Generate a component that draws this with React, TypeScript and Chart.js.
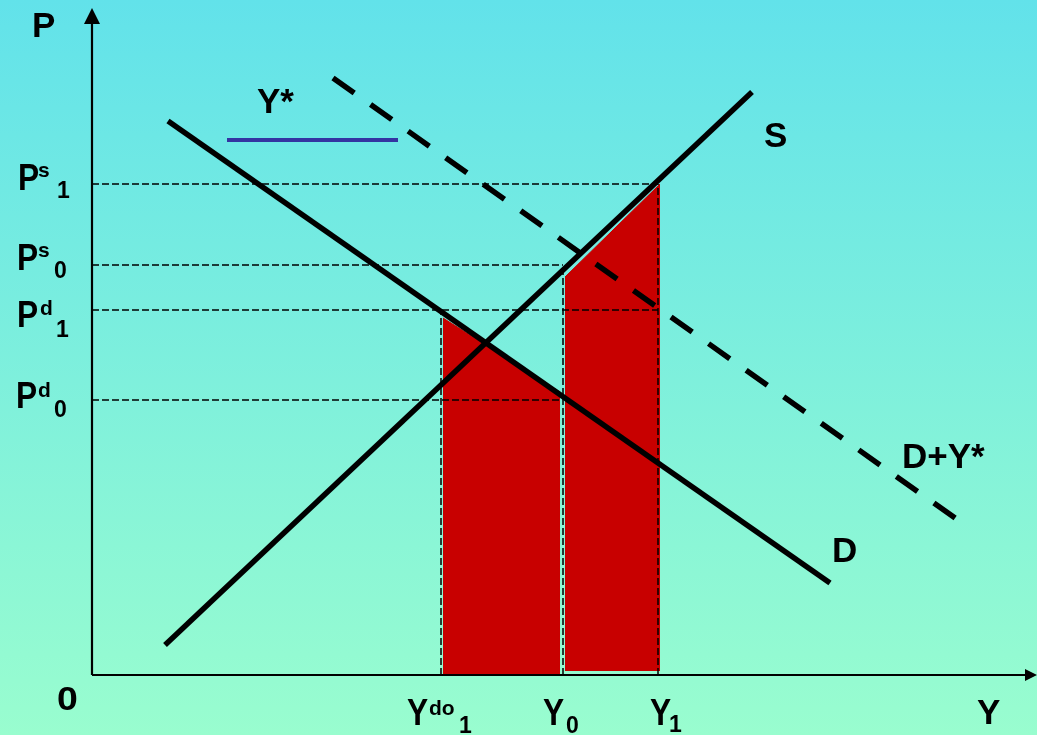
import { useEffect, useRef } from "react";
import { Chart, registerables } from "chart.js";

Chart.register(...registerables);

// ---- data (schematic units: quantity on x, price on y) ----
const supplyX = [73, 660];
const supplyY = [30, 583];
const demandX = [76, 738];
const demandY = [554, 92];
const demandPlusX = [241, 873];
const demandPlusY = [597, 150];
const yStarX = [135, 306];
const yStarLevel = 535;

// Ps1, Ps0, Pd1, Pd0
const priceLevels = [491, 410, 365, 275];
const priceLevelEnds = [566, 471, 566, 468];
// Ydo1, Y0, Y1
const quantityLevels = [349, 471, 566];
const quantityLevelTops = [365, 410, 491];

const leftAreaX = [351, 468];
const leftAreaY = [357, 283];
const rightAreaX = [473, 568];
const rightAreaY = [398, 491];
const rightAreaBase = 4;

const X_MAX = 945;
const Y_MAX = 667;

const FONT = '"Liberation Sans", Arial, Helvetica, sans-serif';

type Part = { t: string; x: number; y: number; size: number; sx: number; sy: number };

// simple labels: [text, x, y] in data units (baseline-left)
const plainLabels: [string, number, number][] = [
  ["P", -60, 638],
  ["Y*", 165, 562],
  ["S", 672, 528],
  ["D+Y*", 810, 207],
  ["D", 740, 113],
  ["Y", 885, -49],
];

// compound labels: main, superscript, subscript
const priceLabelParts: [string, string, string][] = [
  ["P", "s", "1"],
  ["P", "s", "0"],
  ["P", "d", "1"],
  ["P", "d", "0"],
];
const priceLabelPos: number[][] = [
  // mainX, mainY, supX, supY, subX, subY
  [-74, 485, -54, 498, -35, 477],
  [-75, 405, -54, 418, -38, 397],
  [-75, 348, -52, 360, -36, 338],
  [-76, 267, -54, 278, -38, 258],
];
const qtyLabelParts: [string, string, string][] = [
  ["Y", "do", "1"],
  ["Y", "", "0"],
  ["Y", "", "1"],
];
const qtyLabelPos: number[][] = [
  [315, -50, 337, -40, 367, -58],
  [451, -50, 0, 0, 474, -58],
  [558, -50, 0, 0, 577, -57],
];

const seg = (xs: number[], ys: number[]) => xs.map((x, i) => ({ x, y: ys[i] }));

function drawText(ctx: CanvasRenderingContext2D, p: Part) {
  ctx.save();
  ctx.translate(p.x, p.y);
  ctx.scale(p.sx, p.sy);
  ctx.font = `bold ${p.size}px ${FONT}`;
  ctx.textAlign = "left";
  ctx.textBaseline = "alphabetic";
  ctx.fillStyle = "#000";
  ctx.fillText(p.t, 0, 0);
  ctx.restore();
}

const diagramPlugin = {
  id: "diagram",
  beforeDraw(chart: any) {
    const { ctx, width, height } = chart;
    const g = ctx.createLinearGradient(0, 0, 0, height);
    g.addColorStop(0, "#62e2ea");
    g.addColorStop(1, "#99fdcf");
    ctx.save();
    ctx.fillStyle = g;
    ctx.fillRect(0, 0, width, height);
    ctx.restore();
  },
  afterDraw(chart: any) {
    const { ctx } = chart;
    const xs = chart.scales.x;
    const ys = chart.scales.y;
    const px = (v: number) => xs.getPixelForValue(v);
    const py = (v: number) => ys.getPixelForValue(v);

    // axes
    const x0 = px(0);
    const y0 = py(0);
    const xEnd = px(X_MAX);
    const yEnd = py(Y_MAX);
    ctx.save();
    ctx.strokeStyle = "#000";
    ctx.lineWidth = 2.2;
    ctx.beginPath();
    ctx.moveTo(x0, y0);
    ctx.lineTo(x0, yEnd + 10);
    ctx.moveTo(x0, y0);
    ctx.lineTo(xEnd - 8, y0);
    ctx.stroke();
    ctx.fillStyle = "#000";
    ctx.beginPath();
    ctx.moveTo(x0, yEnd);
    ctx.lineTo(x0 - 8, yEnd + 16);
    ctx.lineTo(x0 + 8, yEnd + 16);
    ctx.closePath();
    ctx.fill();
    ctx.beginPath();
    ctx.moveTo(xEnd, y0);
    ctx.lineTo(xEnd - 12, y0 - 6);
    ctx.lineTo(xEnd - 12, y0 + 6);
    ctx.closePath();
    ctx.fill();
    ctx.restore();

    // origin label
    drawText(ctx, { t: "0", x: px(-35), y: py(-35), size: 34, sx: 1.1, sy: 1 });

    plainLabels.forEach(([t, x, y]) => {
      drawText(ctx, { t, x: px(x), y: py(y), size: 35, sx: 1.0, sy: 1.02 });
    });

    const compound = (parts: [string, string, string], pos: number[]) => {
      const [m, sup, sub] = parts;
      drawText(ctx, { t: m, x: px(pos[0]), y: py(pos[1]), size: 36, sx: 0.88, sy: 1 });
      if (sup) drawText(ctx, { t: sup, x: px(pos[2]), y: py(pos[3]), size: 21, sx: 1, sy: 1 });
      if (sub) drawText(ctx, { t: sub, x: px(pos[4]), y: py(pos[5]), size: 23, sx: 1, sy: 1 });
    };
    priceLabelParts.forEach((p, i) => compound(p, priceLabelPos[i]));
    qtyLabelParts.forEach((p, i) => compound(p, qtyLabelPos[i]));
  },
};

export default function App() {
  const ref = useRef<HTMLCanvasElement | null>(null);

  useEffect(() => {
    document.body.style.margin = "0";
    const canvas = ref.current;
    if (!canvas) return;

    const base = { pointRadius: 0, tension: 0, fill: false as any };

    const datasets: any[] = [];

    // main curves (on top)
    datasets.push({ ...base, data: seg(supplyX, supplyY), borderColor: "#000", borderWidth: 5.5, order: 1 });
    datasets.push({ ...base, data: seg(demandX, demandY), borderColor: "#000", borderWidth: 5.5, order: 1 });
    datasets.push({
      ...base,
      data: seg(demandPlusX, demandPlusY),
      borderColor: "#000",
      borderWidth: 5.5,
      borderDash: [26, 20],
      order: 1,
    });
    datasets.push({
      ...base,
      data: seg(yStarX, [yStarLevel, yStarLevel]),
      borderColor: "#3434a2",
      borderWidth: 4,
      order: 1,
    });

    // dashed guide lines
    priceLevels.forEach((p, i) => {
      datasets.push({
        ...base,
        data: seg([0, priceLevelEnds[i]], [p, p]),
        borderColor: "#000",
        borderWidth: 1.5,
        borderDash: [7, 3],
        order: 3,
      });
    });
    quantityLevels.forEach((q, i) => {
      datasets.push({
        ...base,
        data: seg([q, q], [0, quantityLevelTops[i]]),
        borderColor: "#000",
        borderWidth: 1.5,
        borderDash: [7, 3],
        order: 3,
      });
    });

    // shaded areas
    datasets.push({
      ...base,
      data: seg(leftAreaX, leftAreaY),
      borderColor: "#c80000",
      borderWidth: 1,
      backgroundColor: "#c80000",
      fill: "origin",
      order: 5,
    });
    datasets.push({
      ...base,
      data: seg(rightAreaX, rightAreaY),
      borderColor: "#c80000",
      borderWidth: 1,
      backgroundColor: "#c80000",
      fill: { value: rightAreaBase },
      order: 5,
    });

    const chart = new Chart(canvas, {
      type: "line",
      data: { datasets },
      options: {
        animation: false,
        responsive: false,
        events: [],
        layout: { padding: { left: 92, top: 8, right: 0, bottom: 60 } },
        scales: {
          x: { type: "linear", min: 0, max: X_MAX, display: false },
          y: { type: "linear", min: 0, max: Y_MAX, display: false },
        },
        plugins: { legend: { display: false }, tooltip: { enabled: false } },
      },
      plugins: [diagramPlugin],
    });

    return () => chart.destroy();
  }, []);

  return <canvas ref={ref} width={1037} height={735} style={{ display: "block" }} />;
}
